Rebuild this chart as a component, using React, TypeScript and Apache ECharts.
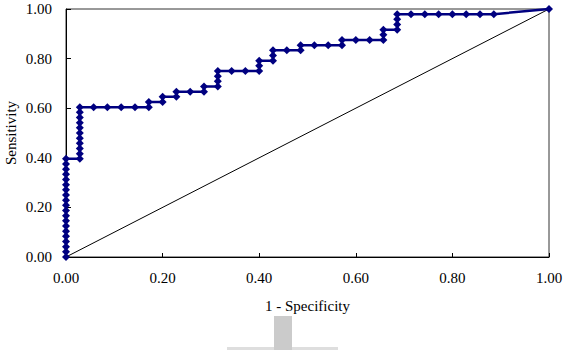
import React, { useEffect, useRef } from "react";
import * as echarts from "echarts";

// ROC curve points: false positives out of 35 negatives,
// true positives out of 48 positives
const N_NEG = 35;
const N_POS = 48;
const fpCounts = [
  0, 0, 0, 0, 0, 0, 0, 0, 0, 0, 0, 0, 0, 0, 0, 0, 0, 0, 0, 0,
  1, 1, 1, 1, 1, 1, 1, 1, 1, 1, 1,
  2, 3, 4, 5, 6, 6, 7, 7, 8, 8, 9, 10, 10, 11, 11, 11, 11,
  12, 13, 14, 14, 14, 15, 15, 15, 16, 17, 17, 18, 19, 20, 20,
  21, 22, 23, 23, 23, 24, 24, 24, 24,
  25, 26, 27, 28, 29, 30, 31, 35,
];
const tpCounts = [
  0, 1, 2, 3, 4, 5, 6, 7, 8, 9, 10, 11, 12, 13, 14, 15, 16, 17, 18, 19,
  19, 20, 21, 22, 23, 24, 25, 26, 27, 28, 29,
  29, 29, 29, 29, 29, 30, 30, 31, 31, 32, 32, 32, 33, 33, 34, 35, 36,
  36, 36, 36, 37, 38, 38, 39, 40, 40, 40, 41, 41, 41, 41, 42,
  42, 42, 42, 43, 44, 44, 45, 46, 47,
  47, 47, 47, 47, 47, 47, 47, 48,
];
const diagonal = [
  [0, 0],
  [1, 1],
];
const xTicks = ["0.00", "0.20", "0.40", "0.60", "0.80", "1.00"];
const yTicks = ["0.00", "0.20", "0.40", "0.60", "0.80", "1.00"];

export default function App() {
  const ref = useRef<HTMLDivElement>(null);
  useEffect(() => {
    if (!ref.current) return;
    const chart = echarts.init(ref.current, null, { renderer: "svg" });
    const roc = fpCounts.map((fp, i) => [fp / N_NEG, tpCounts[i] / N_POS]);
    const font = "Liberation Serif";
    chart.setOption({
      animation: false,
      backgroundColor: "#ffffff",
      textStyle: { fontFamily: font },
      grid: {
        left: 66,
        right: 18,
        top: 9,
        bottom: 93,
        containLabel: false,
        outerBoundsMode: "none",
        show: true,
        borderColor: "#333333",
        borderWidth: 1,
      },
      xAxis: {
        type: "value",
        min: 0,
        max: 1,
        interval: 0.2,
        name: "1 - Specificity",
        nameLocation: "middle",
        nameGap: 41,
        nameMoveOverlap: false,
        nameTextStyle: { fontFamily: font, fontSize: 15, color: "#000" },
        axisLine: { show: true, lineStyle: { color: "#000", width: 1 } },
        axisTick: { show: true, inside: true, length: 4, lineStyle: { color: "#000" } },
        splitLine: { show: false },
        axisLabel: {
          fontFamily: font,
          fontSize: 15,
          color: "#000",
          margin: 13,
          formatter: (v: number) => xTicks[Math.round(v * 5)] ?? "",
        },
      },
      yAxis: {
        type: "value",
        min: 0,
        max: 1,
        interval: 0.2,
        name: "Sensitivity",
        nameLocation: "middle",
        nameGap: 48,
        nameMoveOverlap: false,
        nameTextStyle: { fontFamily: font, fontSize: 15, color: "#000" },
        axisLine: { show: true, lineStyle: { color: "#000", width: 1 } },
        axisTick: { show: true, inside: true, length: 5, lineStyle: { color: "#000" } },
        splitLine: { show: false },
        axisLabel: {
          fontFamily: font,
          fontSize: 15,
          color: "#000",
          margin: 14,
          formatter: (v: number) => yTicks[Math.round(v * 5)] ?? "",
        },
      },
      series: [
        {
          type: "line",
          data: diagonal,
          symbol: "none",
          lineStyle: { color: "#000", width: 1 },
          z: 1,
          silent: true,
        },
        {
          type: "line",
          data: roc,
          symbol: "diamond",
          symbolSize: 8,
          lineStyle: { color: "#000080", width: 2.5 },
          itemStyle: { color: "#000080" },
          z: 3,
        },
      ],
      graphic: [
        {
          type: "rect",
          shape: { x: 227, y: 347, width: 111, height: 3 },
          style: { fill: "#dedede" },
          silent: true,
        },
        {
          type: "rect",
          shape: { x: 274, y: 316, width: 18, height: 34 },
          style: { fill: "#cbcbcb" },
          silent: true,
        },
      ],
    });
    return () => chart.dispose();
  }, []);
  return <div ref={ref} style={{ width: 567, height: 350, position: "absolute", left: 0, top: 0 }} />;
}
